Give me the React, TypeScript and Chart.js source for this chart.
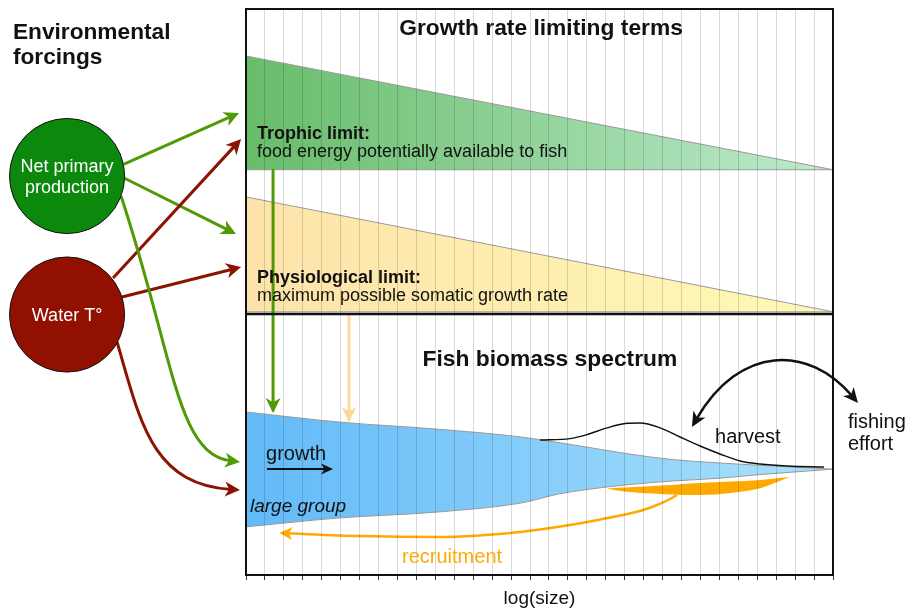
import React, { useEffect, useRef } from 'react';
import { Chart, registerables } from 'chart.js';

Chart.register(...registerables);

const FONT = '"Liberation Sans", Helvetica, Arial, sans-serif';

// ---------- axes (log size classes, relative level) ----------
const SIZE_MIN = 0;
const SIZE_MAX = 31;
const LEVEL_MIN = 0;
const LEVEL_MAX = 100;
const PANEL_BREAK = 46.1;

// ---------- growth rate limiting terms ----------
const trophicX = [0, 31];
const trophicTop = [91.7, 71.6];
const trophicBase = [71.6, 71.6];
const physioX = [0, 31];
const physioTop = [66.8, 46.5];
const physioBase = [46.5, 46.5];

// ---------- fish biomass spectrum ----------
const spectrumX = [0, 5, 10, 14.5, 16.5, 18, 20, 22.5, 25, 27, 31];
const spectrumUpper = [28.8, 27.0, 25.8, 24.4, 23.4, 22.6, 21.5, 20.4, 19.8, 19.4, 18.7];
const spectrumLower = [8.5, 10.1, 11.1, 12.7, 14.3, 15.1, 15.9, 16.6, 17.1, 17.7, 18.7];

const harvestX = [15.53, 17.11, 18.01, 19.07, 20.12, 20.81, 21.87, 22.92, 23.98, 25.03, 26.09, 27.15, 28.57, 30.53];
const harvestY = [23.85, 24.1, 24.8, 26.0, 26.8, 26.86, 26.0, 24.38, 22.79, 21.38, 20.14, 19.61, 19.26, 19.08];

const spawnX = [19.1, 20.3, 21.9, 24.0, 25.6, 27.2, 28.7];
const spawnUpper = [15.3, 15.5, 15.8, 16.25, 16.5, 16.8, 17.3];
const spawnLower = [15.2, 14.66, 14.31, 14.13, 14.49, 15.37, 17.3];

const recruitX = [22.76, 22.29, 21.71, 20.97, 20.02, 18.7, 17.11, 14.47, 10.25, 6.02, 1.9];
const recruitY = [14.13, 13.25, 12.37, 11.48, 10.69, 9.81, 8.83, 7.6, 6.71, 6.89, 7.4];

const growthX = [1.11, 4.49];
const growthY = [18.73, 18.73];

const trophicFlowX = [1.43, 1.43];
const trophicFlowY = [71.55, 29.15];
const physioFlowX = [5.44, 5.44];
const physioFlowY = [45.94, 27.56];

// fishing effort loop (cubic: start, control, control, end)
const fishingArcX = [23.55, 25.83, 30.05, 32.32];
const fishingArcY = [26.15, 39.4, 39.4, 30.39];

// ---------- environmental forcings ----------
const forcingNames = [['Net primary', 'production'], ['Water T°']];
const forcingX = [-9.45, -9.45];
const forcingY = [70.49, 46.02];
const forcingRadius = 3.04;

const linkSource = [0, 0, 1, 1];
const linkFromX = [-6.44, -6.44, -7.02, -6.55];
const linkFromY = [72.61, 70.14, 52.47, 49.12];
const linkToX = [-0.37, -0.53, -0.26, -0.26];
const linkToY = [81.63, 60.25, 77.03, 54.42];

const curveSource = [0, 1];
const curveX = [
  [-6.6, -3.75, -3.22, -0.32],
  [-6.81, -5.6, -4.54, -0.32],
];
const curveY = [
  [66.96, 37.99, 21.2, 19.96],
  [41.17, 27.39, 15.9, 15.02],
];

// ---------- colours ----------
const GREEN_ARROW = '#4f9a06';
const RED_ARROW = '#8c1300';
const ORANGE = '#ffaa00';
const PEACH = '#fcd89a';
const EDGE = '#9a9a9a';
const forcingFill = ['#0c880c', '#921000'];
const forcingArrow = [GREEN_ARROW, RED_ARROW];

const labelList = [
  { text: 'Growth rate limiting terms', x: 15.58, y: 95.41, size: 22.8, weight: 'bold', align: 'center' },
  { text: 'Fish biomass spectrum', x: 16.05, y: 36.93, size: 22.8, weight: 'bold', align: 'center' },
  { text: 'Trophic limit:', x: 0.58, y: 77.03, size: 18, weight: 'bold' },
  { text: 'food energy potentially available to fish', x: 0.58, y: 73.85, size: 18 },
  { text: 'Physiological limit:', x: 0.58, y: 51.59, size: 18, weight: 'bold' },
  { text: 'maximum possible somatic growth rate', x: 0.58, y: 48.46, size: 18 },
  { text: 'growth', x: 1.06, y: 20.32, size: 20 },
  { text: 'large group', x: 0.21, y: 11.13, size: 19, style: 'italic' },
  { text: 'recruitment', x: 8.24, y: 2.12, size: 20, color: ORANGE },
  { text: 'harvest', x: 24.77, y: 23.32, size: 20 },
  { text: 'fishing', x: 31.79, y: 25.97, size: 20 },
  { text: 'effort', x: 31.79, y: 22.08, size: 20 },
  { text: 'Environmental', x: -12.31, y: 94.7, size: 22.7, weight: 'bold' },
  { text: 'forcings', x: -12.31, y: 90.28, size: 22.7, weight: 'bold' },
];
const forcingLabelY = [[71.2, 67.49], [44.88]];

const pts = (xs: number[], ys: number[]) => xs.map((x, i) => ({ x, y: ys[i] }));

const gradient = (from: string, to: string) => (c: any) => {
  const chart = c.chart;
  const ca = chart.chartArea;
  if (!ca) return from;
  const g = chart.ctx.createLinearGradient(ca.left, 0, ca.right, 0);
  g.addColorStop(0, from);
  g.addColorStop(1, to);
  return g;
};

function head(ctx: CanvasRenderingContext2D, tx: number, ty: number, ux: number, uy: number, len: number, half: number, color: string) {
  const bx = tx - ux * len;
  const by = ty - uy * len;
  const nx = -uy;
  const ny = ux;
  ctx.beginPath();
  ctx.moveTo(tx, ty);
  ctx.lineTo(bx + nx * half, by + ny * half);
  ctx.lineTo(tx - ux * len * 0.72, ty - uy * len * 0.72);
  ctx.lineTo(bx - nx * half, by - ny * half);
  ctx.closePath();
  ctx.fillStyle = color;
  ctx.fill();
}

function bezierArrow(ctx: CanvasRenderingContext2D, p: number[][], color: string, width: number, len: number, half: number, both: boolean) {
  const [p0, c1, c2, p3] = p;
  let ex = p3[0] - c2[0], ey = p3[1] - c2[1];
  const el = Math.hypot(ex, ey);
  ex /= el; ey /= el;
  let sx = p0[0] - c1[0], sy = p0[1] - c1[1];
  const sl = Math.hypot(sx, sy);
  sx /= sl; sy /= sl;
  const k = len * 0.6;
  const s0 = both ? [p0[0] - sx * k, p0[1] - sy * k] : p0;
  const s1 = both ? [c1[0] - sx * k, c1[1] - sy * k] : c1;
  ctx.strokeStyle = color;
  ctx.lineWidth = width;
  ctx.lineCap = 'butt';
  ctx.beginPath();
  ctx.moveTo(s0[0], s0[1]);
  ctx.bezierCurveTo(s1[0], s1[1], c2[0] - ex * k, c2[1] - ey * k, p3[0] - ex * k, p3[1] - ey * k);
  ctx.stroke();
  head(ctx, p3[0], p3[1], ex, ey, len, half, color);
  if (both) head(ctx, p0[0], p0[1], sx, sy, len, half, color);
}

const diagramPlugin = {
  id: 'diagram',
  afterDatasetsDraw(chart: any) {
    const ctx: CanvasRenderingContext2D = chart.ctx;
    ctx.save();
    chart.data.datasets.forEach((ds: any, i: number) => {
      if (!ds.arrowHead) return;
      const meta = chart.getDatasetMeta(i);
      const p = meta.data;
      const b = p[p.length - 1];
      const a = p[p.length - 2];
      let fx = a.x, fy = a.y;
      if (typeof b.cp1x === 'number' && (b.cp1x !== b.x || b.cp1y !== b.y)) { fx = b.cp1x; fy = b.cp1y; }
      let dx = b.x - fx, dy = b.y - fy;
      const l = Math.hypot(dx, dy);
      dx /= l; dy /= l;
      const w = ds.borderWidth;
      head(ctx, b.x + dx * w, b.y + dy * w, dx, dy, ds.arrowHead[0], ds.arrowHead[1], ds.borderColor);
    });
    ctx.restore();
  },
  afterDraw(chart: any) {
    const ctx: CanvasRenderingContext2D = chart.ctx;
    const ca = chart.chartArea;
    const xs = chart.scales.x;
    const ys = chart.scales.y;
    const X = (v: number) => xs.getPixelForValue(v);
    const Y = (v: number) => ys.getPixelForValue(v);
    ctx.save();
    // frame and panel divider
    ctx.strokeStyle = '#111';
    ctx.lineWidth = 2;
    ctx.strokeRect(ca.left, ca.top, ca.right - ca.left, ca.bottom - ca.top);
    ctx.lineWidth = 2.5;
    ctx.beginPath();
    ctx.moveTo(ca.left, Y(PANEL_BREAK));
    ctx.lineTo(ca.right, Y(PANEL_BREAK));
    ctx.stroke();

    // fishing effort loop
    bezierArrow(ctx, fishingArcX.map((x, i) => [X(x), Y(fishingArcY[i])]), '#111', 2.5, 15, 7, true);

    // forcing links: straight
    linkFromX.forEach((_, i) => {
      const color = forcingArrow[linkSource[i]];
      const x0 = X(linkFromX[i]), y0 = Y(linkFromY[i]);
      const x1 = X(linkToX[i]), y1 = Y(linkToY[i]);
      const L = Math.hypot(x1 - x0, y1 - y0);
      const ux = (x1 - x0) / L, uy = (y1 - y0) / L;
      ctx.strokeStyle = color;
      ctx.lineWidth = 3;
      ctx.beginPath();
      ctx.moveTo(x0, y0);
      ctx.lineTo(x1 - ux * 9, y1 - uy * 9);
      ctx.stroke();
      head(ctx, x1, y1, ux, uy, 15, 7.5, color);
    });
    // forcing links: curved
    curveX.forEach((cx, i) => {
      bezierArrow(ctx, cx.map((x, j) => [X(x), Y(curveY[i][j])]), forcingArrow[curveSource[i]], 3, 15, 7.5, false);
    });
    // forcing circles
    forcingX.forEach((fx, i) => {
      const cx = X(fx), cy = Y(forcingY[i]);
      const r = X(fx + forcingRadius) - cx;
      ctx.beginPath();
      ctx.arc(cx, cy, r, 0, Math.PI * 2);
      ctx.fillStyle = forcingFill[i];
      ctx.fill();
      ctx.lineWidth = 1;
      ctx.strokeStyle = '#111';
      ctx.stroke();
      ctx.fillStyle = '#fff';
      ctx.font = `normal normal 18px ${FONT}`;
      ctx.textAlign = 'center';
      ctx.textBaseline = 'alphabetic';
      forcingNames[i].forEach((t, j) => ctx.fillText(t, cx, Y(forcingLabelY[i][j])));
    });

    // labels
    labelList.forEach((l: any) => {
      ctx.font = `${l.style || 'normal'} ${l.weight || 'normal'} ${l.size}px ${FONT}`;
      ctx.fillStyle = l.color || '#111';
      ctx.textAlign = l.align || 'left';
      ctx.textBaseline = 'alphabetic';
      ctx.fillText(l.text, X(l.x), Y(l.y));
    });
    ctx.restore();
  },
};

export default function App() {
  const ref = useRef<HTMLCanvasElement | null>(null);
  useEffect(() => {
    if (!ref.current) return;
    const line = (data: any, extra: any) => ({
      data,
      pointRadius: 0,
      borderWidth: 1,
      borderColor: EDGE,
      fill: false,
      tension: 0,
      ...extra,
    });
    const smooth = { cubicInterpolationMode: 'monotone', tension: 0.4 };
    const chart = new Chart(ref.current, {
      type: 'line',
      data: {
        datasets: [
          // 0-1 trophic limit
          line(pts(trophicX, trophicTop), { fill: '+1', backgroundColor: gradient('rgb(104,188,106)', 'rgb(190,235,206)'), order: 6 }),
          line(pts(trophicX, trophicBase), { order: 5 }),
          // 2-3 physiological limit
          line(pts(physioX, physioTop), { fill: '+1', backgroundColor: gradient('rgb(253,227,170)', 'rgb(255,250,182)'), order: 6 }),
          line(pts(physioX, physioBase), { order: 5 }),
          // 4-5 biomass spectrum
          line(pts(spectrumX, spectrumUpper), { fill: '+1', ...smooth, backgroundColor: gradient('rgb(98,186,248)', 'rgb(172,226,252)'), order: 6 }),
          line(pts(spectrumX, spectrumLower), { ...smooth, order: 5 }),
          // 6-7 spawning crescent
          line(pts(spawnX, spawnUpper), { fill: '+1', tension: 0.35, borderWidth: 0, borderColor: ORANGE, backgroundColor: ORANGE, order: 4 }),
          line(pts(spawnX, spawnLower), { tension: 0.35, borderWidth: 0, borderColor: ORANGE, order: 4 }),
          // 8 harvest
          line(pts(harvestX, harvestY), { ...smooth, borderColor: '#111', borderWidth: 1.4, order: 2 }),
          // 9 recruitment
          line(pts(recruitX, recruitY), { ...smooth, borderColor: ORANGE, borderWidth: 2.5, arrowHead: [13, 6.5], order: 1 }),
          // 10 growth
          line(pts(growthX, growthY), { borderColor: '#111', borderWidth: 2, arrowHead: [12, 5.5], order: 1 }),
          // 11 trophic flow
          line(pts(trophicFlowX, trophicFlowY), { borderColor: GREEN_ARROW, borderWidth: 3, arrowHead: [15, 7.5], order: 1 }),
          // 12 physiological flow
          line(pts(physioFlowX, physioFlowY), { borderColor: PEACH, borderWidth: 3, arrowHead: [15, 7.5], order: 1 }),
        ] as any,
      },
      options: {
        responsive: false,
        maintainAspectRatio: false,
        animation: false,
        devicePixelRatio: 1,
        layout: { padding: { left: 246, right: 76, top: 9, bottom: 0 } },
        plugins: { legend: { display: false }, tooltip: { enabled: false } },
        elements: { point: { radius: 0 }, line: { borderJoinStyle: 'round' } },
        scales: {
          x: {
            type: 'linear',
            min: SIZE_MIN,
            max: SIZE_MAX,
            afterFit: (s: any) => { s.height = 37; },
            ticks: { display: false, stepSize: 1 },
            grid: { color: 'rgba(0,0,0,0.15)', lineWidth: 1, tickLength: 5, tickColor: '#333', drawTicks: true, z: 1 },
            border: { display: false },
            title: { display: true, text: 'log(size)', color: '#111', font: { size: 19, family: FONT }, padding: { top: 0, bottom: 2 } },
          },
          y: { type: 'linear', min: LEVEL_MIN, max: LEVEL_MAX, display: false },
        },
      } as any,
      plugins: [diagramPlugin],
    });
    return () => chart.destroy();
  }, []);
  return (
    <div style={{ position: 'absolute', left: 0, top: 0, width: 909, height: 612, background: '#fff' }}>
      <canvas ref={ref} width={909} height={612} style={{ width: 909, height: 612, display: 'block' }} />
    </div>
  );
}
